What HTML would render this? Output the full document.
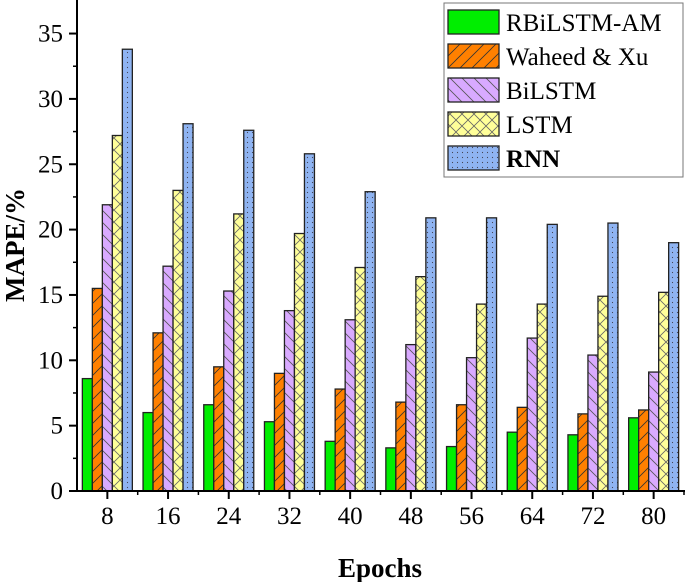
<!DOCTYPE html>
<html><head><meta charset="utf-8"><style>
html,body{margin:0;padding:0;background:#fff;}
svg{display:block;}
svg text{font-family:"Liberation Serif","DejaVu Serif",serif;}
</style></head><body>
<svg id="chart" width="685" height="582" font-family="Liberation Serif, serif">
<defs>
<pattern id="p-or" width="12" height="12" patternUnits="userSpaceOnUse"><rect width="12" height="12" fill="#ff8000"/><path d="M0,12 L12,0 M-3,3 L3,-3 M9,15 L15,9" stroke="#333" stroke-width="0.8"/></pattern>
<pattern id="p-pu" width="12" height="12" patternUnits="userSpaceOnUse"><rect width="12" height="12" fill="#d9aaff"/><path d="M0,0 L12,12 M-3,9 L3,15 M9,-3 L15,3" stroke="#555" stroke-width="0.8"/></pattern>
<pattern id="p-ye" width="12" height="12" patternUnits="userSpaceOnUse"><rect width="12" height="12" fill="#ffff99"/><path d="M0,0 L12,12 M0,12 L12,0" stroke="#666" stroke-width="0.8"/></pattern>
<pattern id="p-bl" width="5" height="5" patternUnits="userSpaceOnUse"><rect width="5" height="5" fill="#8fb4f2"/><circle cx="2.5" cy="2.5" r="0.6" fill="#445"/></pattern>
</defs>
<g id="bars"></g>
<g id="axes"></g>
<g>
<rect x="444" y="3" width="239" height="174" fill="#fff" stroke="#777" stroke-width="1"/>
<g id="legend-items"></g>
</g>
<text x="24" y="245" transform="rotate(-90 24 245)" text-anchor="middle" font-size="27" font-weight="bold">MAPE/%</text>
<text x="380" y="577" text-anchor="middle" font-size="27" font-weight="bold">Epochs</text>
</svg>
<script>
const categories = ["8","16","24","32","40","48","56","64","72","80"];
const seriesNames = ["RBiLSTM-AM","Waheed & Xu","BiLSTM","LSTM","RNN"];
const rbilstmAm = [8.6,6.0,6.6,5.3,3.8,3.3,3.4,4.5,4.3,5.6];
const waheedXu = [15.5,12.1,9.5,9.0,7.8,6.8,6.6,6.4,5.9,6.2];
const bilstm = [21.9,17.2,15.3,13.8,13.1,11.2,10.2,11.7,10.4,9.1];
const lstm = [27.2,23.0,21.2,19.7,17.1,16.4,14.3,14.3,14.9,15.2];
const rnn = [33.8,28.1,27.6,25.8,22.9,20.9,20.9,20.4,20.5,19.0];
const yTicks = [0,5,10,15,20,25,30,35];

const NS="http://www.w3.org/2000/svg";
const fills=["#00ee00","url(#p-or)","url(#p-pu)","url(#p-ye)","url(#p-bl)"];
const allSeries=[rbilstmAm,waheedXu,bilstm,lstm,rnn];
const x0=77, band=60.7, y0=491, ppu=13.07, barW=10;
const yScale=v=>y0-v*ppu;
const xCenter=i=>x0+band*(i+0.5);
function mk(tag,attrs,parent){const e=document.createElementNS(NS,tag);for(const k in attrs)e.setAttribute(k,attrs[k]);parent.appendChild(e);return e;}
const gb=document.getElementById('bars');
allSeries.forEach((s,si)=>{
  s.forEach((v,i)=>{
    const x=xCenter(i)-2.5*barW+si*barW;
    const r=mk('rect',{x:x,y:yScale(v),width:barW,height:v*ppu,fill:fills[si],stroke:'#222','stroke-width':1.3},gb);
    
    
  });
});
const ga=document.getElementById('axes');
mk('line',{x1:x0,y1:0,x2:x0,y2:y0,stroke:'#000','stroke-width':2},ga);
mk('line',{x1:x0,y1:y0,x2:685,y2:y0,stroke:'#000','stroke-width':2},ga);
yTicks.forEach(t=>{
  const y=yScale(t);
  mk('line',{x1:x0-8,y1:y,x2:x0,y2:y,stroke:'#000','stroke-width':2},ga);
  if(t<35) mk('line',{x1:x0-4,y1:yScale(t+2.5),x2:x0,y2:yScale(t+2.5),stroke:'#000','stroke-width':1.5},ga);
  const tx=mk('text',{x:63,y:y+8,'text-anchor':'end','font-size':25},ga);
  tx.textContent=t;
  
  
});
categories.forEach((c,i)=>{
  const x=xCenter(i);
  mk('line',{x1:x,y1:y0,x2:x,y2:y0+8,stroke:'#000','stroke-width':2},ga);
  mk('line',{x1:x0+band*(i+1),y1:y0,x2:x0+band*(i+1),y2:y0+4,stroke:'#000','stroke-width':1.5},ga);
  const tx=mk('text',{x:x,y:y0+33,'text-anchor':'middle','font-size':25},ga);
  tx.textContent=c;
  
  
});
const gl=document.getElementById('legend-items');
seriesNames.forEach((n,si)=>{
  const y=10+si*34;
  const r=mk('rect',{x:448,y:y,width:51,height:24,fill:fills[si],stroke:'#222','stroke-width':1.3},gl);
  
  
  const t=mk('text',{x:506,y:y+21,'font-size':25},gl);
  if(si===4) t.setAttribute('font-weight','bold');
  t.textContent=n;
  
  
});
</script>
</body></html>
